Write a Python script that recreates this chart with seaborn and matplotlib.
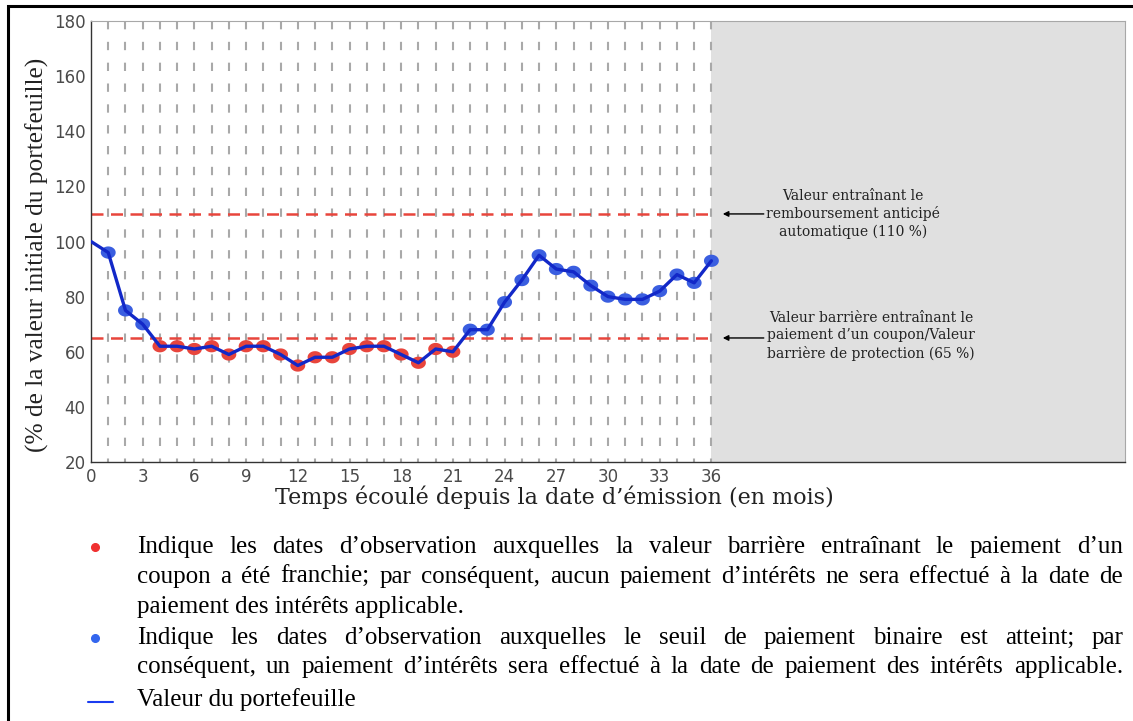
import numpy as np
import pandas as pd
import matplotlib
matplotlib.use("Agg")
import matplotlib.pyplot as plt
import seaborn as sns
from matplotlib.patches import Rectangle
from matplotlib.lines import Line2D
from matplotlib.path import Path

# ---------------- data ----------------
months = list(range(37))
values = [100, 96, 75, 70, 62, 62, 61, 62, 59, 62, 62, 59, 55, 58, 58, 61, 62, 62,
          59, 56, 61, 60, 68, 68, 78, 86, 95, 90, 89, 84, 80, 79, 79, 82, 88, 85, 93]
status = ["start"] + ["blue"] * 3 + ["red"] * 18 + ["blue"] * 15
x_ticks = [0, 3, 6, 9, 12, 15, 18, 21, 24, 27, 30, 33, 36]
y_ticks = [20, 40, 60, 80, 100, 120, 140, 160, 180]
autocall_level = 110
barrier_level = 65
horizon = 36
x_max = 60

ylabel = "(% de la valeur initiale du portefeuille)"
xlabel = "Temps écoulé depuis la date d\u2019émission (en mois)"
note_autocall = "Valeur entraînant le\nremboursement anticipé\nautomatique (110 %)"
note_barrier = "Valeur barrière entraînant le\npaiement d\u2019un coupon/Valeur\nbarrière de protection (65 %)"
legend_red = ["Indique les dates d\u2019observation auxquelles la valeur barrière entraînant le paiement d\u2019un",
              "coupon a été franchie; par conséquent, aucun paiement d\u2019intérêts ne sera effectué à la date de",
              "paiement des intérêts applicable."]
legend_blue = ["Indique les dates d\u2019observation auxquelles le seuil de paiement binaire est atteint; par",
               "conséquent, un paiement d\u2019intérêts sera effectué à la date de paiement des intérêts applicable."]
legend_line = "Valeur du portefeuille"

df = pd.DataFrame({"month": months, "value": values, "status": status})

# ---------------- figure ----------------
sns.set_style("white")
plt.rcParams["font.family"] = ["DejaVu Sans"]
W, H = 1133, 721
fig = plt.figure(figsize=(W / 100, H / 100), dpi=100)
fig.patch.set_facecolor("white")

ax = fig.add_axes([91 / W, 1 - 462 / H, (1125 - 91) / W, (462 - 21) / H])
ax.set_xlim(0, x_max)
ax.set_ylim(20, 180)

ax.axvspan(horizon, x_max, color="#e0e0e0", zorder=0, lw=0)

for m in months[1:]:
    ax.plot([m, m], [180, 20], color="#a9a9a9", lw=1.5, dashes=(4, 6), zorder=1)

for lvl in (autocall_level, barrier_level):
    ax.plot([0, horizon], [lvl, lvl], color="#e8453c", lw=1.8, dashes=(4.8, 3.0), zorder=2)

# ellipse marker
t = np.linspace(0, 2 * np.pi, 60)
ell = Path(np.column_stack([np.cos(t), 0.82 * np.sin(t)]), closed=True)

sns.scatterplot(data=df[df["status"] != "start"], x="month", y="value", hue="status",
                palette={"red": "#e8453c", "blue": "#3a5ee0"}, marker=ell, s=115,
                edgecolor="none", legend=False, ax=ax, zorder=3)
sns.lineplot(data=df, x="month", y="value", color="#1228c8", lw=2.4, ax=ax, zorder=4,
             solid_joinstyle="round", solid_capstyle="round")

ax.set_xticks(x_ticks)
ax.set_xticklabels([str(v) for v in x_ticks])
ax.set_yticks(y_ticks)
ax.set_yticklabels([str(v) for v in y_ticks])
ax.tick_params(axis="both", labelsize=12, colors="#4a4a4a", length=3, width=0.8,
               direction="out", pad=1)
ax.tick_params(axis="both", color="#555555")
ax.set_xlabel("")
ax.set_ylabel("")
for s in ("left", "bottom"):
    ax.spines[s].set_color("#333333")
    ax.spines[s].set_linewidth(1.0)
for s in ("top", "right"):
    ax.spines[s].set_color("#a8a8a8")
    ax.spines[s].set_linewidth(0.8)

# axis labels
fig.text(37 / W, 1 - 255 / H, ylabel, rotation=90, ha="center", va="center",
         family="Liberation Serif", fontsize=18.3, color="#222222")
fig.text(554 / W, 1 - 497 / H, xlabel, ha="center", va="center",
         family="DejaVu Serif", fontsize=16, color="#222222")

# annotations
fig.text(853 / W, 1 - 214 / H, note_autocall, ha="center", va="center",
         family="DejaVu Serif", fontsize=10, linespacing=1.3, color="#222222")
fig.text(871 / W, 1 - 336 / H, note_barrier, ha="center", va="center",
         family="DejaVu Serif", fontsize=10, linespacing=1.3, color="#222222")
for lvl in (autocall_level, barrier_level):
    ax.annotate("", xy=(36.5, lvl), xytext=(39.2, lvl),
                arrowprops=dict(arrowstyle="-|>", color="black", lw=1.0, mutation_scale=8),
                annotation_clip=False)

# legend (justified text)
renderer = fig.canvas.get_renderer()
x0, x1 = 137, 1123
leg_font = dict(family="Liberation Serif", fontsize=18, color="black", va="center", ha="left")


def put_line(text, y, justify):
    if not justify:
        fig.text(x0 / W, 1 - y / H, text, **leg_font)
        return
    words = text.split(" ")
    objs = [fig.text(0, 1 - y / H, w, **leg_font) for w in words]
    widths = [o.get_window_extent(renderer).width for o in objs]
    gap = (x1 - x0 - sum(widths)) / (len(words) - 1)
    x = x0
    for o, w in zip(objs, widths):
        o.set_x(x / W)
        x += w + gap


put_line(legend_red[0], 547, True)
put_line(legend_red[1], 577, True)
put_line(legend_red[2], 607, False)
put_line(legend_blue[0], 638, True)
put_line(legend_blue[1], 667, True)
put_line(legend_line, 700, False)

fig.add_artist(Line2D([95 / W], [1 - 547 / H], marker="o", markersize=5.5, color="#f03030",
                      transform=fig.transFigure, lw=0))
fig.add_artist(Line2D([95 / W], [1 - 638 / H], marker="o", markersize=5.5, color="#3366ee",
                      transform=fig.transFigure, lw=0))
fig.add_artist(Line2D([88 / W, 113 / W], [1 - 702 / H, 1 - 702 / H], color="#1a3cf0", lw=1.5,
                      transform=fig.transFigure))

# outer border
fig.add_artist(Rectangle((8 / W, -0.05), 1.2, (1 - 6 / H) + 0.05, fill=False,
                         edgecolor="black", lw=2.2, transform=fig.transFigure, clip_on=False))

fig.savefig("out.png", dpi=100)
